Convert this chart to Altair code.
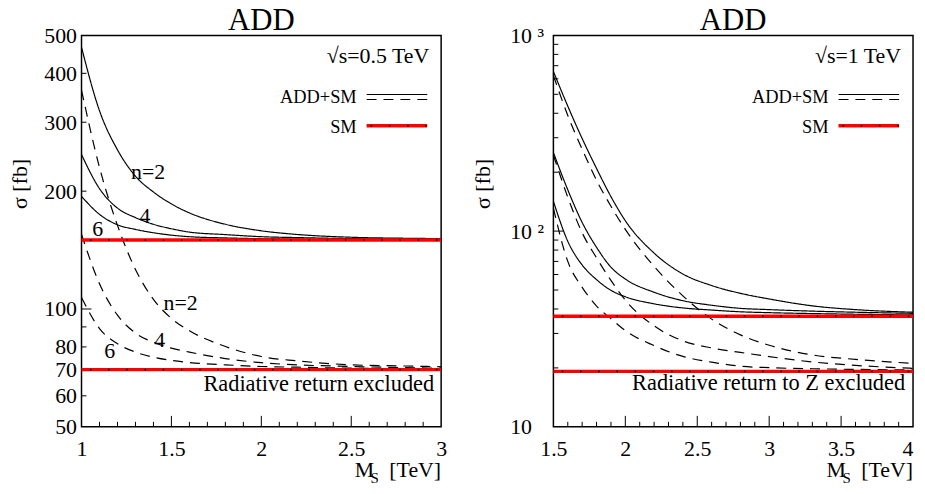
import altair as alt
import pandas as pd

FONT = "Liberation Serif, Times New Roman, serif"
W, H = 362, 394

# ---------------- left panel: sqrt(s) = 0.5 TeV ----------------
ms_left = [1.0, 1.1, 1.2, 1.3, 1.4, 1.5, 1.6, 1.8, 2.0, 2.2, 2.5, 2.8, 3.0]
left_full_n2 = [466, 321, 255, 218.5, 199, 185.5, 176, 164.6, 158.4, 155, 152.5, 151.6, 151.3]
left_full_n4 = [248, 203, 181, 171.2, 164.6, 160.3, 157.2, 154.9, 153.0, 152.2, 151.3, 150.8, 150.5]
left_full_n6 = [194, 174.5, 164.1, 159.7, 156.6, 154.4, 153.0, 151.9, 151.2, 150.8, 150.5, 150.3, 150.2]
left_rr_n2 = [362, 230, 163.5, 126.2, 105.8, 94.6, 88.0, 80.2, 75.6, 73.7, 72.0, 71.5, 71.2]
left_rr_n4 = [155, 116, 96.4, 86.8, 82.2, 79.4, 77.6, 74.7, 72.9, 72.0, 71.3, 70.8, 70.6]
left_rr_n6 = [107, 89.1, 81.5, 77.6, 75.3, 73.9, 73.0, 72.0, 71.3, 71.0, 70.6, 70.35, 70.25]
left_sm = [150, 70]

left_xlabels = [1, 1.5, 2, 2.5, 3]
left_xminor = [1.1, 1.2, 1.3, 1.4, 1.6, 1.7, 1.8, 1.9, 2.1, 2.2, 2.3, 2.4, 2.6, 2.7, 2.8, 2.9]
left_xmajor = [1.5, 2.0, 2.5]
left_ylabels = [50, 60, 70, 80, 90, 100, 200, 300, 400, 500]
left_ymajor = [100]
left_yminor = [60, 70, 80, 90, 200, 300, 400]

left_nlab_M = [1.275, 1.322, 1.06, 1.456, 1.405, 1.126]
left_nlab_s = [224, 172.6, 160, 103.3, 83.5, 78.2]
left_nlab_t = ["n=2", "4", "6", "n=2", "4", "6"]

# ---------------- right panel: sqrt(s) = 1 TeV ----------------
ms_right = [1.5, 1.6, 1.7, 1.8, 1.9, 2.0, 2.2, 2.4, 2.6, 2.8, 3.0, 3.3, 3.6, 4.0]
right_full_n2 = [654, 435, 297, 209, 150, 113, 77.2, 60.4, 52.7, 48.1, 45.0, 41.5, 39.7, 38.5]
right_full_n4 = [252, 162.5, 110.7, 82.6, 65.4, 56.9, 48.7, 44.1, 41.8, 40.3, 39.7, 39.0, 38.5, 38.0]
right_full_n6 = [142, 88.7, 67.1, 56.5, 49.8, 46.2, 42.5, 40.5, 39.5, 38.7, 38.3, 37.9, 37.6, 37.3]
right_rr_n2 = [624, 390, 262, 182, 134, 102, 66, 46.7, 35.5, 29.5, 26.1, 23.3, 22.1, 21.1]
right_rr_n4 = [245, 149, 98, 73, 56, 44.4, 32.8, 27.5, 25.3, 24.0, 22.85, 21.45, 20.6, 19.9]
right_rr_n6 = [131, 70, 51.6, 41.4, 35.7, 31.0, 26.0, 22.9, 21.4, 20.4, 20.05, 19.8, 19.65, 19.5]
right_sm = [36.7, 19.2]

right_xlabels = [1.5, 2, 2.5, 3, 3.5, 4]
right_xminor = [1.6, 1.7, 1.8, 1.9, 2.1, 2.2, 2.3, 2.4, 2.6, 2.7, 2.8, 2.9,
                3.1, 3.2, 3.3, 3.4, 3.6, 3.7, 3.8, 3.9]
right_xmajor = [2.0, 2.5, 3.0, 3.5]
right_ylabels = [10, 100, 1000]
right_ymajor = [100]
right_yminor = [20, 30, 40, 50, 60, 70, 80, 90, 200, 300, 400, 500, 600, 700, 800, 900]

ONE = pd.DataFrame({"k": [0]})


def curves_df(ms, sets):
    rows = []
    for name, kind, vals in sets:
        for m, v in zip(ms, vals):
            rows.append({"M": m, "sigma": v, "series": name, "kind": kind})
    return pd.DataFrame(rows)


def ptext(txt, x, y, size=22, align="right", baseline="middle"):
    return alt.Chart(ONE).mark_text(
        text=txt, font=FONT, fontSize=size, align=align, baseline=baseline, color="black"
    ).encode(x=alt.value(x), y=alt.value(y))


def prule(x1, x2, y, **kw):
    return alt.Chart(ONE).mark_rule(**kw).encode(x=alt.value(x1), x2=alt.value(x2), y=alt.value(y))


def panel(ms, sets, sm, xdom, ydom, xlabels, xminor, xmajor, ylabels, ymajor, yminor,
          sqrt_text, rr_text, rr_x, rr_y, ylab_expr=None, ylab_align="right", ylab_pad=5,
          nlab=None, title_x=-62):
    df = curves_df(ms, sets)
    xs = alt.Scale(domain=xdom, nice=False, zero=False)
    ys = alt.Scale(type="log", domain=ydom, nice=False)
    xaxis = alt.Axis(values=xlabels, format="~g", ticks=False, domain=False, grid=False,
                     labelFont=FONT, labelFontSize=22, labelPadding=12, title=None,
                     labelColor="black",
                     labelAlign={"condition": {"test": "datum.value >= 4", "value": "right"},
                                 "value": "center"})
    yargs = dict(values=ylabels, ticks=False, domain=False, grid=False,
                 labelFont=FONT, labelFontSize=22, labelPadding=ylab_pad, labelColor="black",
                 labelAlign=ylab_align, labelBaseline="middle",
                 title="σ [fb]", titleFont=FONT, titleFontSize=22, titleFontWeight="normal",
                 titleColor="black", titleX=title_x, titleY=149, titleAlign="center",
                 titleBaseline="middle", titleAngle=270)
    if ylab_expr:
        yargs["labelExpr"] = ylab_expr
    else:
        yargs["format"] = "~g"
    yaxis = alt.Axis(**yargs)

    lines = alt.Chart(df).mark_line(color="black", strokeWidth=1.2, interpolate="monotone").encode(
        x=alt.X("M:Q", scale=xs, axis=xaxis),
        y=alt.Y("sigma:Q", scale=ys, axis=yaxis),
        detail="series:N",
        strokeDash=alt.StrokeDash("kind:N", scale=alt.Scale(domain=["full", "rr"], range=[[1, 0], [10, 7]]),
                                  legend=None),
    )
    smdf = pd.DataFrame({"sigma": sm})
    sm_red = alt.Chart(smdf).mark_rule(color="#ff0000", strokeWidth=3.5).encode(y="sigma:Q")
    sm_dot = alt.Chart(smdf).mark_rule(color="black", strokeWidth=1.6, strokeDash=[1.6, 16.73],
                                       strokeDashOffset=14.6).encode(y="sigma:Q")

    tx_min = alt.Chart(pd.DataFrame({"M": xminor})).mark_rule(color="black", strokeWidth=1).encode(
        x="M:Q", y=alt.value(H), y2=alt.value(H - 5))
    tx_maj = alt.Chart(pd.DataFrame({"M": xmajor})).mark_rule(color="black", strokeWidth=1).encode(
        x="M:Q", y=alt.value(H), y2=alt.value(H - 11))
    ty_min = alt.Chart(pd.DataFrame({"sigma": yminor})).mark_rule(color="black", strokeWidth=1).encode(
        y="sigma:Q", x=alt.value(0), x2=alt.value(5))
    ty_maj = alt.Chart(pd.DataFrame({"sigma": ymajor})).mark_rule(color="black", strokeWidth=1).encode(
        y="sigma:Q", x=alt.value(0), x2=alt.value(10))

    layers = [tx_min, tx_maj, ty_min, ty_maj, lines, sm_red, sm_dot]

    if nlab is not None:
        ndf = pd.DataFrame({"M": nlab[0], "sigma": nlab[1], "label": nlab[2]})
        layers.append(alt.Chart(ndf).mark_text(font=FONT, fontSize=22, align="left", baseline="middle",
                                               color="black").encode(x="M:Q", y="sigma:Q", text="label:N"))

    r = W - 364  # shift of right-anchored decorations
    layers += [
        ptext("ADD", W / 2, -5, size=31, align="center", baseline="alphabetic"),
        ptext(sqrt_text, 352 + r, 21),
        ptext("ADD+SM", 279 + r, 62, size=18.5),
        ptext("SM", 279 + r, 92, size=18.5),
        prule(289 + r, 350 + r, 59.5, color="black", strokeWidth=1.2),
        prule(289 + r, 350 + r, 64.5, color="black", strokeWidth=1.2, strokeDash=[10, 7]),
        prule(289 + r, 350 + r, 91, color="#ff0000", strokeWidth=3.5),
        prule(289 + r, 350 + r, 91, color="black", strokeWidth=1.6, strokeDash=[1.6, 16.73],
              strokeDashOffset=14.33),
        ptext(rr_text, rr_x + r, rr_y, size=22.5),
        ptext("M", 277 + r, 445, size=22, align="left", baseline="alphabetic"),
        ptext("S", 293 + r, 450.5, size=15, align="left", baseline="alphabetic"),
        ptext("[TeV]", W, 445, size=22, align="right", baseline="alphabetic"),
    ]
    return alt.layer(*layers).properties(width=W, height=H)


left = panel(
    ms_left,
    [("full2", "full", left_full_n2), ("full4", "full", left_full_n4), ("full6", "full", left_full_n6),
     ("rr2", "rr", left_rr_n2), ("rr4", "rr", left_rr_n4), ("rr6", "rr", left_rr_n6)],
    left_sm, [1, 3], [50, 500], left_xlabels, left_xminor, left_xmajor,
    left_ylabels, left_ymajor, left_yminor,
    "√s=0.5 TeV", "Radiative return excluded", 357, 351,
    nlab=(left_nlab_M, left_nlab_s, left_nlab_t), title_x=-62,
)

right = panel(
    ms_right,
    [("full2", "full", right_full_n2), ("full4", "full", right_full_n4), ("full6", "full", right_full_n6),
     ("rr2", "rr", right_rr_n2), ("rr4", "rr", right_rr_n4), ("rr6", "rr", right_rr_n6)],
    right_sm, [1.5, 4], [10, 1000], right_xlabels, right_xminor, right_xmajor,
    right_ylabels, right_ymajor, right_yminor,
    "√s=1 TeV", "Radiative return to Z excluded", 356, 349.5,
    ylab_expr="datum.value == 1000 ? '10 ³' : (datum.value == 100 ? '10 ²' : '10')",
    ylab_align="left", ylab_pad=44, title_x=-71,
)

chart = alt.hconcat(left, right, spacing=23).properties(
    padding={"left": 0, "top": -5, "right": 0, "bottom": -3}
).configure_view(stroke="black", strokeWidth=1.5)

chart.save("out.html", embed_options={"renderer": "svg", "actions": False})
